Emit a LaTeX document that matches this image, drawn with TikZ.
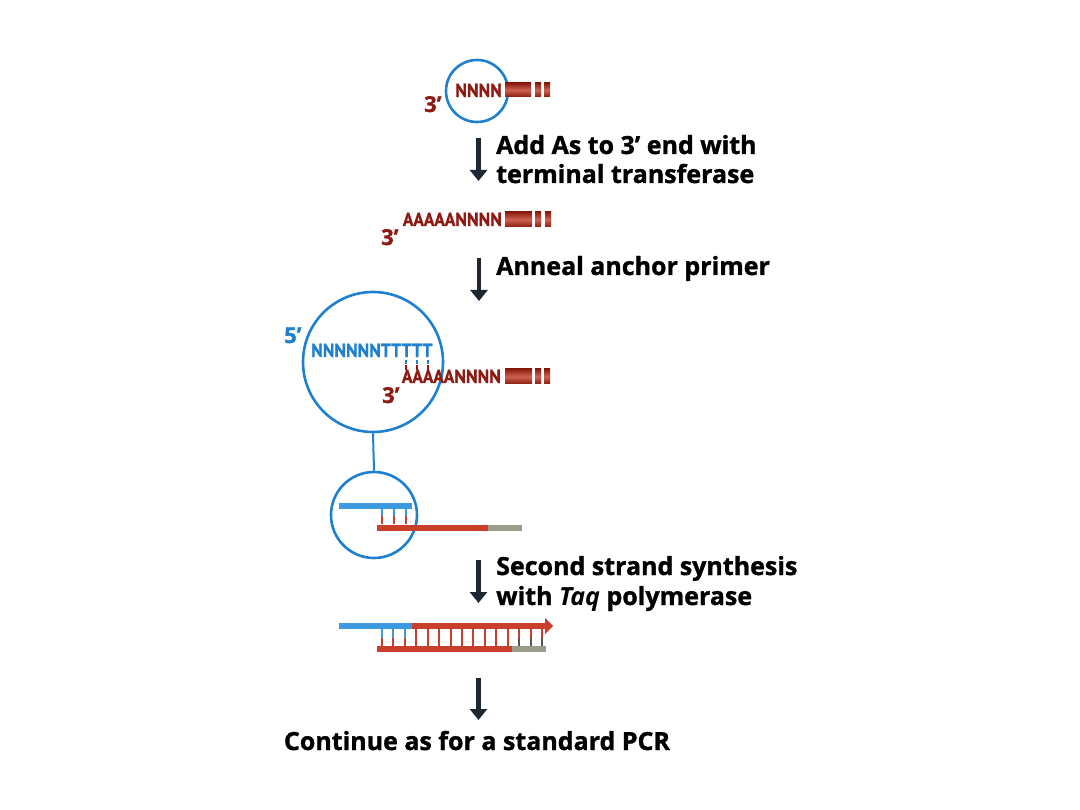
\documentclass[tikz,border=0pt]{standalone}
\usepackage{fontspec}
\setmainfont[BoldFeatures={FakeBold=1.2}]{Open Sans}
\newfontfamily\condf[FakeStretch=0.93, BoldFeatures={FakeBold=0.6}]{PT Sans}
\newfontfamily\endf[BoldFeatures={FakeBold=1.2}]{Open Sans}
\usetikzlibrary{arrows.meta}
\definecolor{dred}{HTML}{8E1A14}
\definecolor{barred}{HTML}{C23A26}
\definecolor{bardark}{HTML}{8A1C10}
\definecolor{cblue}{HTML}{1E80CF}
\definecolor{sblue}{HTML}{3B9AE0}
\definecolor{sred}{HTML}{C8402C}
\definecolor{sgray}{HTML}{9C9C8C}
\definecolor{dgray}{HTML}{55564C}
\definecolor{navy}{HTML}{1E2834}
\tikzset{
  lab/.style={font=\bfseries\fontsize{25}{28}\selectfont, inner sep=0pt, text=black},
  seqr/.style={font=\condf\bfseries\fontsize{19}{20}\selectfont, inner sep=0pt, text=dred},
  seqb/.style={font=\condf\bfseries\fontsize{19}{20}\selectfont, inner sep=0pt, text=cblue},
  endr/.style={font=\endf\bfseries\fontsize{22}{24}\selectfont, inner sep=0pt, text=dred},
  endb/.style={font=\endf\bfseries\fontsize{22}{24}\selectfont, inner sep=0pt, text=cblue},
  ring/.style={draw=cblue, line width=2.6pt, circle, inner sep=0pt},
  stepar/.style={draw=navy, line width=4.2pt, -{Triangle[width=17pt,length=11pt]}},
  redbar/.style={top color=bardark, bottom color=bardark, middle color=barred!80!white, draw=none},
  strand/.style={line width=6pt},
}
\begin{document}
\begin{tikzpicture}[x=1pt,y=-1pt]
\useasboundingbox (0,0) rectangle (1080,810);
\fill[white] (0,0) rectangle (1080,810);

% ---------- step 1
\node[ring, minimum size=62pt] (c1) at (477,91) {};
\node[seqr, anchor=base east] (s1) at (502,97) {NNNN};
\node[endr, anchor=base west] (p1) at (424,112) {3’};
\path[redbar] (505,83) rectangle (531,97);
\path[redbar] (535,83) rectangle (541,97);
\path[redbar] (544,83) rectangle (550,97);

\coordinate (a1s) at (478.5,138);
\coordinate (a1e) at (478.5,181);
\draw[stepar] (a1s) -- (a1e);
\node[lab, anchor=base west] (t1a) at (496,154) {Add As to 3’ end with};
\node[lab, anchor=base west] (t1b) at (496,183) {terminal transferase};

% ---------- step 2
\node[seqr, anchor=base east] (s2) at (502,226) {AAAAANNNN};
\node[endr, anchor=base west] (p2) at (381,245) {3’};
\path[redbar] (505,212) rectangle (532,227);
\path[redbar] (535,212) rectangle (541,227);
\path[redbar] (545,212) rectangle (551,227);

\coordinate (a2s) at (479,258);
\coordinate (a2e) at (479,301);
\draw[stepar] (a2s) -- (a2e);
\node[lab, anchor=base west] (t2) at (496,275) {Anneal anchor primer};

% ---------- step 3 (anchor primer)
\node[ring, minimum size=140pt] (c2) at (373,362) {};
\node[endb, anchor=base west] (p5) at (284,343) {5’};
\node[seqb, anchor=base west] (s3) at (311,357) {NNNNNNTTTTT};
\node[seqr, anchor=base east] (s4) at (501,383) {AAAAANNNN};
\node[endr, anchor=base west] (p3) at (382,403) {3’};
\foreach \x in {406,417,428}{
  \draw[cblue, line width=1.8pt] (\x,360) -- (\x,364.5);
  \draw[dred, line width=1.8pt] (\x,365.5) -- (\x,370);
}
\path[redbar] (505,369) rectangle (532,384);
\path[redbar] (535,369) rectangle (541,384);
\path[redbar] (544,369) rectangle (550,384);

% ---------- zoom circle
\node[ring, minimum size=86pt] (c3) at (374,515) {};
\draw[cblue, line width=2pt] (c2.south) -- (c3.north);
\draw[sblue, strand] (339,505.5) -- (412,505.5);
\foreach \x in {382,394,406}{
  \draw[sblue, line width=2pt] (\x,508) -- (\x,516);
  \draw[sred, line width=2pt] (\x,516) -- (\x,524);
}
\draw[sred, strand] (377,527.5) -- (488,527.5);
\draw[sgray, strand] (488,527.5) -- (522,527.5);

\coordinate (a3s) at (478.5,560);
\coordinate (a3e) at (478.5,603);
\draw[stepar] (a3s) -- (a3e);
\node[lab, anchor=base west] (t3a) at (496,575) {Second strand synthesis};
\node[lab, anchor=base west] (t3b) at (496,605) {with \textit{Taq} polymerase};

% ---------- double strand
\foreach \i in {0,...,14}{
  \pgfmathsetmacro{\xx}{382+11.43*\i}
  \ifnum\i<3
    \draw[sblue, line width=2pt] (\xx,629) -- (\xx,638);
    \draw[sred, line width=2pt] (\xx,638) -- (\xx,646);
  \else\ifnum\i>11
    \draw[sred, line width=2pt] (\xx,629) -- (\xx,638);
    \draw[dgray, line width=2pt] (\xx,638) -- (\xx,646);
  \else
    \draw[sred, line width=2pt] (\xx,629) -- (\xx,646);
  \fi\fi
}
\draw[sblue, strand] (339,626) -- (412,626);
\draw[sred, strand] (412,626) -- (546,626);
\fill[sred] (545,618) -- (553,626) -- (545,634) -- cycle;
\draw[sred, strand] (377,649) -- (512,649);
\draw[sgray, strand] (512,649) -- (546,649);

\coordinate (a4s) at (478.5,678);
\coordinate (a4e) at (478.5,720);
\draw[stepar] (a4s) -- (a4e);
\node[lab, anchor=base] (t4) at (477,750) {Continue as for a standard PCR};
\end{tikzpicture}
\end{document}
